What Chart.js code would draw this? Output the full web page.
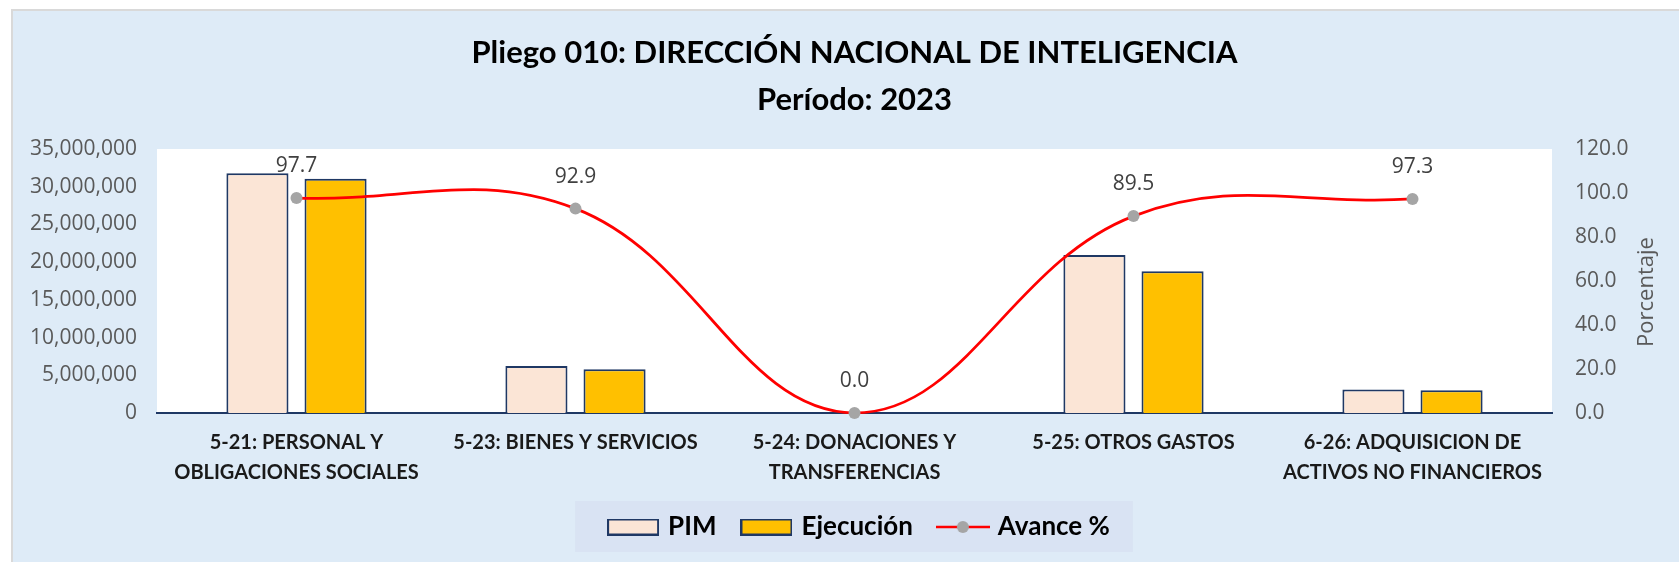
<!DOCTYPE html>
<html lang="es">
<head>
<meta charset="UTF-8">
<title>Pliego 010 - Período 2023</title>
<script src="https://cdn.jsdelivr.net/npm/chart.js@4.4.0/dist/chart.umd.min.js"></script>
<style>
  html, body { margin: 0; padding: 0; background: #ffffff; }
  #contenedor { position: relative; width: 1679px; height: 562px; }
</style>
</head>
<body>
<div id="contenedor"><canvas id="grafico"></canvas></div>
<script>
// datos
const categorias = [
    ['5-21: PERSONAL Y', 'OBLIGACIONES SOCIALES'],
    '5-23: BIENES Y SERVICIOS',
    ['5-24: DONACIONES Y', 'TRANSFERENCIAS'],
    '5-25: OTROS GASTOS',
    ['6-26: ADQUISICION DE', 'ACTIVOS NO FINANCIEROS']
];
const pim = [31800000, 6230000, 0, 20950000, 3120000];
const ejecucion = [31070000, 5790000, 0, 18800000, 3030000];
const avance = [97.7, 92.9, 0.0, 89.5, 97.3];

const ticksMonto = [0, 5000000, 10000000, 15000000, 20000000, 25000000, 30000000, 35000000];
const ticksPorcentaje = [0, 20, 40, 60, 80, 100, 120];

const titulo = ['Pliego 010: DIRECCIÓN NACIONAL DE INTELIGENCIA', 'Período: 2023'];

const AZUL_BORDE = '#1F3864';
const fuenteTexto = '"Open Sans", "DejaVu Sans", sans-serif';
const fuenteNegrita = 'Lato, "Open Sans", sans-serif';

// cajitas de la leyenda, hechas a mano pa que se vean como en excel
const cajaLeyenda = (relleno) => {
    const c = document.createElement('canvas');
    c.width = 52; c.height = 17;
    const g = c.getContext('2d');
    g.fillStyle = relleno;
    g.fillRect(1, 1, 50, 15);
    g.strokeStyle = AZUL_BORDE;
    g.lineWidth = 2;
    g.strokeRect(1, 1, 50, 15);
    return c;
};
const lineaLeyenda = () => {
    const c = document.createElement('canvas');
    c.width = 54; c.height = 16;
    const g = c.getContext('2d');
    g.strokeStyle = '#FF0000';
    g.lineWidth = 2.5;
    g.beginPath(); g.moveTo(0, 8); g.lineTo(54, 8); g.stroke();
    g.fillStyle = '#A5A5A5';
    g.beginPath(); g.arc(27, 8, 6, 0, Math.PI * 2); g.fill();
    return c;
};

// fondo, titulo, caja de la leyenda y titulo del eje derecho
const fondo = {
    id: 'fondo',
    afterLayout(chart) {
        // la leyenda en excel queda un poco corrida a la derecha
        chart.legend.left += 30;
    },
    beforeDraw(chart) {
        const { ctx, width, height, chartArea } = chart;
        ctx.save();
        ctx.fillStyle = '#FFFFFF';
        ctx.fillRect(0, 0, width, height);
        ctx.fillStyle = '#D9D9D9';
        ctx.fillRect(11, 9, width - 11, height - 9);
        ctx.fillStyle = '#DEEBF7';
        ctx.fillRect(13, 11, width - 13, height - 11);
        ctx.fillStyle = '#FFFFFF';
        ctx.fillRect(chartArea.left, chartArea.top, chartArea.width, chartArea.height);

        const cajas = chart.legend.legendHitBoxes;
        if (cajas && cajas.length) {
            const izq = Math.min(...cajas.map(b => b.left)) - 36;
            const der = Math.max(...cajas.map(b => b.left + b.width)) + 23;
            ctx.fillStyle = '#D9E3F3';
            ctx.fillRect(izq, 501, der - izq, 51);
        }

        const centro = (chartArea.left + chartArea.right) / 2;
        ctx.fillStyle = '#000000';
        ctx.textAlign = 'center';
        ctx.textBaseline = 'middle';
        ctx.font = 'bold 31px ' + fuenteNegrita;
        ctx.fillText(titulo[0], centro, 53);
        ctx.fillText(titulo[1], centro, 100);

        // "Porcentaje" va de abajo pa arriba, chart.js lo pone al reves
        const ejeDer = chart.scales.yPct;
        ctx.save();
        ctx.translate(1647, (ejeDer.top + ejeDer.bottom) / 2 + 11);
        ctx.rotate(-Math.PI / 2);
        ctx.font = '22px ' + fuenteTexto;
        ctx.fillStyle = '#595959';
        ctx.fillText('Porcentaje', 0, 0);
        ctx.restore();
        ctx.restore();
    }
};

// etiquetas de % encima de cada punto
const etiquetasAvance = {
    id: 'etiquetasAvance',
    afterDatasetsDraw(chart) {
        const meta = chart.getDatasetMeta(2);
        const ctx = chart.ctx;
        ctx.save();
        ctx.font = '21px ' + fuenteTexto;
        ctx.fillStyle = '#404040';
        ctx.textAlign = 'center';
        ctx.textBaseline = 'middle';
        meta.data.forEach((punto, i) => {
            ctx.fillText(avance[i].toFixed(1), punto.x, punto.y - 32);
        });
        ctx.restore();
    }
};

const ctx = document.getElementById('grafico').getContext('2d');

window.graficoPliego = new Chart(ctx, {
    type: 'bar',
    data: {
        labels: categorias,
        datasets: [
            {
                label: 'PIM',
                data: pim,
                backgroundColor: '#FBE5D6',
                borderColor: AZUL_BORDE,
                borderWidth: 2,
                yAxisID: 'y',
                order: 1
            },
            {
                label: 'Ejecución',
                data: ejecucion,
                backgroundColor: '#FFC000',
                borderColor: AZUL_BORDE,
                borderWidth: 2,
                yAxisID: 'y',
                order: 1
            },
            {
                type: 'line',
                label: 'Avance %',
                data: avance,
                borderColor: '#FF0000',
                borderWidth: 2.75,
                tension: 0.4,
                pointRadius: 6,
                pointBackgroundColor: '#A5A5A5',
                pointBorderColor: '#A5A5A5',
                pointBorderWidth: 0,
                clip: false,
                yAxisID: 'yPct',
                order: 0
            }
        ]
    },
    options: {
        responsive: true,
        maintainAspectRatio: false,
        animation: false,
        datasets: {
            bar: { categoryPercentage: 0.56, barPercentage: 0.795 }
        },
        layout: {
            padding: { top: 149, left: 12, right: 0, bottom: 12 }
        },
        plugins: {
            title: { display: false },
            tooltip: { enabled: false },
            legend: {
                position: 'bottom',
                labels: {
                    usePointStyle: true,
                    pointStyleWidth: 44,
                    boxHeight: 17,
                    padding: 28,
                    color: '#000000',
                    font: { family: fuenteNegrita, size: 26, weight: 'bold' },
                    generateLabels: () => [
                        { text: 'PIM', pointStyle: cajaLeyenda('#FBE5D6'), datasetIndex: 0, fontColor: '#000000', lineWidth: 0 },
                        { text: 'Ejecución', pointStyle: cajaLeyenda('#FFC000'), datasetIndex: 1, fontColor: '#000000', lineWidth: 0 },
                        { text: 'Avance %', pointStyle: lineaLeyenda(), datasetIndex: 2, fontColor: '#000000', lineWidth: 0 }
                    ]
                }
            }
        },
        scales: {
            x: {
                grid: { display: false, drawTicks: false },
                border: { display: true, color: AZUL_BORDE, width: 2 },
                ticks: {
                    color: '#1A1A1A',
                    padding: 15,
                    maxRotation: 0,
                    autoSkip: false,
                    font: { family: fuenteNegrita, size: 20, weight: 'bold', lineHeight: 1.5 }
                },
                afterFit: (escala) => { escala.height = 73; }
            },
            y: {
                position: 'left',
                min: 0,
                max: 35000000,
                grid: { display: false, drawTicks: false },
                border: { display: false },
                afterBuildTicks: (escala) => { escala.ticks = ticksMonto.map(v => ({ value: v })); },
                ticks: {
                    color: '#595959',
                    padding: 20,
                    font: { family: fuenteTexto, size: 21 },
                    callback: (v) => Number(v).toLocaleString('en-US')
                },
                afterFit: (escala) => { escala.width = 145; }
            },
            yPct: {
                position: 'right',
                min: 0,
                max: 120,
                grid: { display: false, drawTicks: false },
                border: { display: false },
                afterBuildTicks: (escala) => { escala.ticks = ticksPorcentaje.map(v => ({ value: v })); },
                ticks: {
                    color: '#595959',
                    padding: 23,
                    font: { family: fuenteTexto, size: 21 },
                    callback: (v) => Number(v).toFixed(1)
                },
                afterFit: (escala) => { escala.width = 127; }
            }
        }
    },
    plugins: [fondo, etiquetasAvance]
});
</script>
</body>
</html>
